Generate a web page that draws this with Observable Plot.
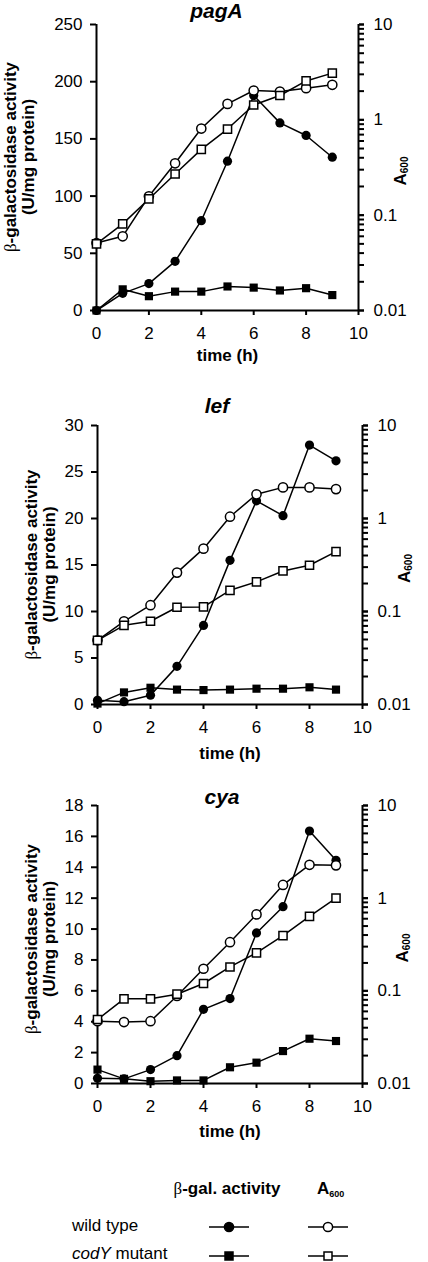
<!DOCTYPE html>
<html><head><meta charset="utf-8">
<script src="https://cdn.jsdelivr.net/npm/d3@7"></script>
<script src="https://cdn.jsdelivr.net/npm/@observablehq/plot@0.6"></script>
<style>
body{margin:0;background:#fff;}
#fig{position:relative;width:428px;height:1262px;font-family:"Liberation Sans",Arial,sans-serif;overflow:hidden;}
#fig svg{position:absolute;left:0;overflow:visible;}
</style></head><body><div id="fig"></div>
<script>
// ---- data ----
const hours = [0,1,2,3,4,5,6,7,8,9];
const genes = ["pagA","lef","cya"];
const strains = ["wild type","codY mutant"];
const pagA_gal_wt   = [0,15,23.5,43,78.5,130.5,188,164,153,134];
const pagA_gal_cody = [0,18.5,12.5,16.5,16.5,21,20,17.5,19.5,13.5];
const pagA_a600_wt   = [0.051,0.060,0.158,0.35,0.81,1.47,2.03,1.98,2.15,2.33];
const pagA_a600_cody = [0.050,0.081,0.148,0.27,0.49,0.80,1.43,1.80,2.56,3.09];
const lef_gal_wt   = [0.45,0.3,1.0,4.1,8.5,15.5,21.9,20.3,27.9,26.2];
const lef_gal_cody = [0.1,1.3,1.8,1.6,1.55,1.6,1.7,1.7,1.85,1.6];
const lef_a600_wt   = [0.049,0.0785,0.117,0.262,0.474,1.045,1.82,2.16,2.16,2.07];
const lef_a600_cody = [0.049,0.071,0.0785,0.111,0.112,0.169,0.208,0.273,0.314,0.44];
const cya_gal_wt   = [0.34,0.3,0.9,1.8,4.8,5.5,9.75,11.45,16.35,14.45];
const cya_gal_cody = [0.9,0.3,0.15,0.2,0.2,1.05,1.35,2.1,2.9,2.75];
const cya_a600_wt   = [0.047,0.046,0.047,0.088,0.173,0.335,0.668,1.39,2.29,2.26];
const cya_a600_cody = [0.049,0.082,0.082,0.092,0.12,0.181,0.257,0.394,0.637,1.0];
const galMax = [250,30,18];
const galTicks = [[0,50,100,150,200,250],[0,5,10,15,20,25,30],[0,2,4,6,8,10,12,14,16,18]];
const a600Major = [0.01,0.1,1,10];
const timeTicks = [0,2,4,6,8,10];
const galSeries = [[pagA_gal_wt,pagA_gal_cody],[lef_gal_wt,lef_gal_cody],[cya_gal_wt,cya_gal_cody]];
const a600Series = [[pagA_a600_wt,pagA_a600_cody],[lef_a600_wt,lef_a600_cody],[cya_a600_wt,cya_a600_cody]];

// ---- layout ----
const FONT = '"Liberation Sans", Arial, sans-serif';
const layout = [
  {top:0,   height:370, mt:24, mb:60, ml:96, mr:70, tdx:-11, tdy:-7,  xl:45, yl1:10, yl2:28, ylc:-10, a6x:400},
  {top:380, height:380, mt:45, mb:56, ml:97, mr:66, tdx:-13, tdy:-13, xl:49, yl1:31, yl2:49, ylc:0,  a6x:404},
  {top:760, height:380, mt:45, mb:57, ml:97, mr:66, tdx:-8,  tdy:-2,  xl:48, yl1:31, yl2:49, ylc:-5, a6x:402}
];
const fig = document.getElementById("fig");
const toRows = (arrs) => arrs.flatMap((vals, si) => vals.map((v, i) => ({t: hours[i], v, strain: strains[si]})));
const minorTicks = d3.scaleLog().domain([0.01,10]).ticks();

layout.forEach((L, k) => {
  const gal = toRows(galSeries[k]);
  const a6 = toRows(a600Series[k]);
  const common = {width:428, height:L.height, marginTop:L.mt, marginBottom:L.mb, marginLeft:L.ml, marginRight:L.mr,
    style:{fontFamily:FONT, fontSize:"17px", background:"transparent", color:"black", overflow:"visible"}};
  const left = Plot.plot({...common,
    x:{domain:[0,10]}, y:{domain:[0,galMax[k]]},
    marks:[
      Plot.axisX({ticks:timeTicks, tickSize:5, tickPadding:11, label:null, strokeWidth:2}),
      Plot.axisY({ticks:galTicks[k], tickSize:6, tickPadding:8, label:null, strokeWidth:2}),
      Plot.ruleX([0], {strokeWidth:2}),
      Plot.ruleX([10], {strokeWidth:2}),
      Plot.ruleY([0], {strokeWidth:2}),
      Plot.line(gal, {x:"t", y:"v", z:"strain", stroke:"black", strokeWidth:1.5}),
      Plot.dot(gal.filter(d=>d.strain===strains[0]), {x:"t", y:"v", symbol:"circle", r:4.6, fill:"black"}),
      Plot.dot(gal.filter(d=>d.strain===strains[1]), {x:"t", y:"v", symbol:"square", r:4.6, fill:"black"}),
      Plot.text([genes[k]], {text:d=>d, frameAnchor:"top", dx:L.tdx, dy:L.tdy, lineAnchor:"bottom", fontSize:21, fontWeight:"bold", fontStyle:"italic"}),
      Plot.text(["time (h)"], {text:d=>d, frameAnchor:"bottom", dy:L.xl, lineAnchor:"middle", fontSize:17, fontWeight:"bold"})
    ]
  });
  const right = Plot.plot({...common,
    x:{domain:[0,10], axis:null}, y:{type:"log", domain:[0.01,10]},
    marks:[
      Plot.axisY({anchor:"right", ticks:minorTicks, tickSize:5, tickFormat:()=>"", label:null, strokeWidth:2}),
      Plot.axisY({anchor:"right", ticks:a600Major, tickSize:5, tickPadding:10, tickFormat:d=>String(d), label:null, strokeWidth:2}),
      Plot.line(a6, {x:"t", y:"v", z:"strain", stroke:"black", strokeWidth:1.5}),
      Plot.dot(a6.filter(d=>d.strain===strains[0]), {x:"t", y:"v", symbol:"circle", r:4.6, fill:"white", stroke:"black", strokeWidth:1.5}),
      Plot.dot(a6.filter(d=>d.strain===strains[1]), {x:"t", y:"v", symbol:"square", r:4.6, fill:"white", stroke:"black", strokeWidth:1.5})
    ]
  });
  left.style.top = L.top + "px";
  right.style.top = L.top + "px";
  fig.appendChild(left);
  fig.appendChild(right);

  // axis titles
  const cy = L.mt + (L.height - L.mt - L.mb) / 2 + L.ylc;
  const s = d3.select(left);
  const t1 = s.append("text").attr("transform", `translate(${L.yl1},${cy}) rotate(-90)`)
    .attr("text-anchor","middle").attr("dominant-baseline","central").attr("font-size",17).attr("font-family",FONT);
  t1.append("tspan").attr("font-family",'"Liberation Serif", serif').attr("font-weight","normal").text("β");
  t1.append("tspan").attr("font-weight","bold").text("-galactosidase activity");
  s.append("text").attr("transform", `translate(${L.yl2},${cy}) rotate(-90)`)
    .attr("text-anchor","middle").attr("dominant-baseline","central").attr("font-size",17).attr("font-weight","bold")
    .attr("font-family",FONT).text("(U/mg protein)");
  const cy2 = L.mt + (L.height - L.mt - L.mb) / 2 + 4;
  const a = s.append("text").attr("transform", `translate(${L.a6x},${cy2}) rotate(-90)`)
    .attr("text-anchor","middle").attr("dominant-baseline","central").attr("font-family",FONT).attr("font-weight","bold");
  a.append("tspan").attr("font-size",17).text("A");
  a.append("tspan").attr("font-size",10).attr("dy",4).text("600");
});

// ---- legend ----
const lg = d3.select(fig).append("svg").attr("width",428).attr("height",122).style("top","1140px")
  .attr("font-family",FONT).attr("font-size",17);
const colX = [229, 328];
const rowY = [87, 116];
const hdr = lg.append("text").attr("x",227).attr("y",54).attr("text-anchor","middle");
hdr.append("tspan").attr("font-family",'"Liberation Serif", serif').text("β");
hdr.append("tspan").attr("font-weight","bold").text("-gal. activity");
const h2 = lg.append("text").attr("x",317).attr("y",54).attr("font-weight","bold");
h2.append("tspan").text("A");
h2.append("tspan").attr("font-size",9).attr("dy",3).text("600");
lg.append("text").attr("x",72).attr("y",rowY[0]+4).text("wild type");
const r2 = lg.append("text").attr("x",72).attr("y",rowY[1]+3);
r2.append("tspan").attr("font-style","italic").text("codY");
r2.append("tspan").text(" mutant");
strains.forEach((st, ri) => {
  colX.forEach((cx, ci) => {
    lg.append("line").attr("x1",cx-20).attr("x2",cx+20).attr("y1",rowY[ri]).attr("y2",rowY[ri]).attr("stroke","black").attr("stroke-width",1.5);
    const fill = ci === 0 ? "black" : "white";
    if (ri === 0) lg.append("circle").attr("cx",cx).attr("cy",rowY[ri]).attr("r",4.6).attr("fill",fill).attr("stroke","black").attr("stroke-width",1.5);
    else lg.append("rect").attr("x",cx-4).attr("y",rowY[ri]-4).attr("width",8).attr("height",8).attr("fill",fill).attr("stroke","black").attr("stroke-width",1.5);
  });
});
</script></body></html>
